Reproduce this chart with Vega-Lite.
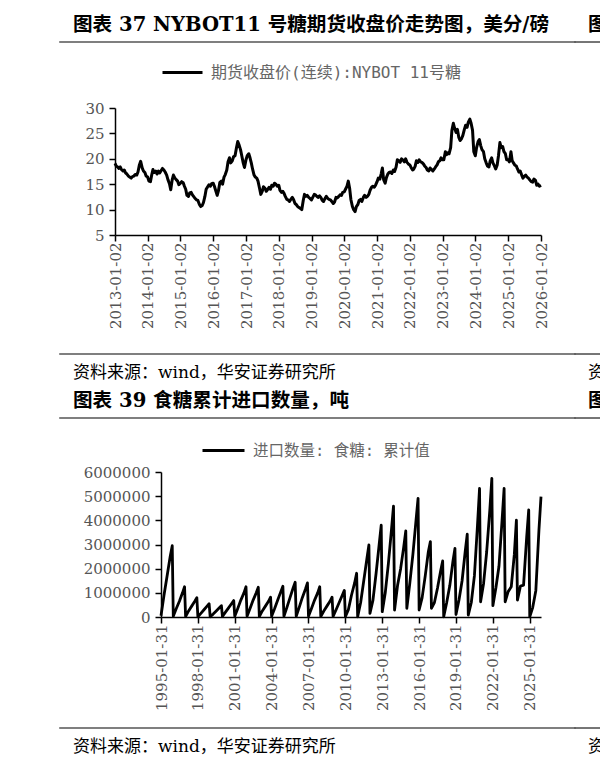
{
  "$schema": "https://vega.github.io/schema/vega-lite/v6.json",
  "padding": {"left": 59, "top": 14, "right": 0, "bottom": 5},
  "background": "white",
  "spacing": 0,
  "resolve": {"scale": {"color": "independent"}, "legend": {"color": "independent"}},
  "datasets": {
    "price": [
      {"d":"2013-01-02","p":19.1},{"d":"2013-01-15","p":18.6},{"d":"2013-02-01","p":18.4},{"d":"2013-02-15","p":18.1},{"d":"2013-03-01","p":18.4},{"d":"2013-03-15","p":17.9},{"d":"2013-04-01","p":17.6},{"d":"2013-04-15","p":17.8},{"d":"2013-05-01","p":17.2},{"d":"2013-05-15","p":17.0},{"d":"2013-06-01","p":16.6},{"d":"2013-06-15","p":16.4},{"d":"2013-07-01","p":16.2},{"d":"2013-07-15","p":16.5},{"d":"2013-08-01","p":16.6},{"d":"2013-08-15","p":16.9},{"d":"2013-09-01","p":16.8},{"d":"2013-09-15","p":17.4},{"d":"2013-10-01","p":18.8},{"d":"2013-10-15","p":19.5},{"d":"2013-11-01","p":18.2},{"d":"2013-11-15","p":17.6},{"d":"2013-12-01","p":17.3},{"d":"2013-12-15","p":16.6},
      {"d":"2014-01-01","p":16.4},{"d":"2014-01-15","p":15.6},{"d":"2014-02-01","p":15.5},{"d":"2014-02-15","p":16.8},{"d":"2014-03-01","p":17.9},{"d":"2014-03-15","p":17.3},{"d":"2014-04-01","p":17.6},{"d":"2014-04-15","p":17.0},{"d":"2014-05-01","p":17.6},{"d":"2014-05-15","p":17.2},{"d":"2014-06-01","p":17.7},{"d":"2014-06-15","p":18.1},{"d":"2014-07-01","p":17.8},{"d":"2014-07-15","p":17.4},{"d":"2014-08-01","p":16.8},{"d":"2014-08-15","p":15.9},{"d":"2014-09-01","p":15.1},{"d":"2014-09-15","p":13.9},{"d":"2014-10-01","p":15.8},{"d":"2014-10-15","p":16.8},{"d":"2014-11-01","p":16.2},{"d":"2014-11-15","p":15.9},{"d":"2014-12-01","p":15.6},{"d":"2014-12-15","p":14.9},
      {"d":"2015-01-01","p":15.2},{"d":"2015-01-15","p":15.5},{"d":"2015-02-01","p":15.3},{"d":"2015-02-15","p":14.6},{"d":"2015-03-01","p":14.0},{"d":"2015-03-15","p":12.8},{"d":"2015-04-01","p":12.6},{"d":"2015-04-15","p":13.3},{"d":"2015-05-01","p":13.4},{"d":"2015-05-15","p":12.9},{"d":"2015-06-01","p":12.5},{"d":"2015-06-15","p":12.2},{"d":"2015-07-01","p":11.9},{"d":"2015-07-15","p":11.8},{"d":"2015-08-01","p":11.0},{"d":"2015-08-15","p":10.6},{"d":"2015-09-01","p":10.8},{"d":"2015-09-15","p":11.4},{"d":"2015-10-01","p":12.6},{"d":"2015-10-15","p":14.0},{"d":"2015-11-01","p":14.5},{"d":"2015-11-15","p":14.9},{"d":"2015-12-01","p":14.6},{"d":"2015-12-15","p":15.1},
      {"d":"2016-01-01","p":15.2},{"d":"2016-01-15","p":14.6},{"d":"2016-02-01","p":13.6},{"d":"2016-02-15","p":12.8},{"d":"2016-03-01","p":13.8},{"d":"2016-03-15","p":15.3},{"d":"2016-04-01","p":15.6},{"d":"2016-04-15","p":15.0},{"d":"2016-05-01","p":16.4},{"d":"2016-05-15","p":16.9},{"d":"2016-06-01","p":17.8},{"d":"2016-06-15","p":19.4},{"d":"2016-07-01","p":20.2},{"d":"2016-07-15","p":19.2},{"d":"2016-08-01","p":19.6},{"d":"2016-08-15","p":20.4},{"d":"2016-09-01","p":20.6},{"d":"2016-09-15","p":22.0},{"d":"2016-10-01","p":23.4},{"d":"2016-10-15","p":22.8},{"d":"2016-11-01","p":21.8},{"d":"2016-11-15","p":20.6},{"d":"2016-12-01","p":19.2},{"d":"2016-12-15","p":18.3},
      {"d":"2017-01-01","p":19.8},{"d":"2017-01-15","p":20.6},{"d":"2017-02-01","p":21.0},{"d":"2017-02-15","p":20.2},{"d":"2017-03-01","p":19.2},{"d":"2017-03-15","p":18.0},{"d":"2017-04-01","p":16.8},{"d":"2017-04-15","p":16.4},{"d":"2017-05-01","p":16.2},{"d":"2017-05-15","p":15.6},{"d":"2017-06-01","p":14.2},{"d":"2017-06-15","p":13.0},{"d":"2017-07-01","p":13.6},{"d":"2017-07-15","p":14.5},{"d":"2017-08-01","p":14.2},{"d":"2017-08-15","p":13.6},{"d":"2017-09-01","p":14.0},{"d":"2017-09-15","p":14.4},{"d":"2017-10-01","p":14.0},{"d":"2017-10-15","p":14.8},{"d":"2017-11-01","p":14.6},{"d":"2017-11-15","p":15.2},{"d":"2017-12-01","p":15.0},{"d":"2017-12-15","p":14.6},
      {"d":"2018-01-01","p":14.8},{"d":"2018-01-15","p":13.8},{"d":"2018-02-01","p":13.4},{"d":"2018-02-15","p":13.6},{"d":"2018-03-01","p":13.2},{"d":"2018-03-15","p":12.6},{"d":"2018-04-01","p":12.0},{"d":"2018-04-15","p":11.9},{"d":"2018-05-01","p":11.6},{"d":"2018-05-15","p":12.0},{"d":"2018-06-01","p":12.4},{"d":"2018-06-15","p":12.0},{"d":"2018-07-01","p":11.2},{"d":"2018-07-15","p":11.0},{"d":"2018-08-01","p":10.6},{"d":"2018-08-15","p":10.4},{"d":"2018-09-01","p":10.2},{"d":"2018-09-15","p":10.0},{"d":"2018-10-01","p":11.8},{"d":"2018-10-15","p":13.0},{"d":"2018-11-01","p":12.6},{"d":"2018-11-15","p":12.8},{"d":"2018-12-01","p":12.4},{"d":"2018-12-15","p":12.2},
      {"d":"2019-01-01","p":11.9},{"d":"2019-01-15","p":12.4},{"d":"2019-02-01","p":13.0},{"d":"2019-02-15","p":12.9},{"d":"2019-03-01","p":12.6},{"d":"2019-03-15","p":12.4},{"d":"2019-04-01","p":12.7},{"d":"2019-04-15","p":12.4},{"d":"2019-05-01","p":11.8},{"d":"2019-05-15","p":11.6},{"d":"2019-06-01","p":12.2},{"d":"2019-06-15","p":12.6},{"d":"2019-07-01","p":12.2},{"d":"2019-07-15","p":12.0},{"d":"2019-08-01","p":11.9},{"d":"2019-08-15","p":11.6},{"d":"2019-09-01","p":11.2},{"d":"2019-09-15","p":11.5},{"d":"2019-10-01","p":12.4},{"d":"2019-10-15","p":12.3},{"d":"2019-11-01","p":12.6},{"d":"2019-11-15","p":12.9},{"d":"2019-12-01","p":12.8},{"d":"2019-12-15","p":13.4},
      {"d":"2020-01-01","p":13.5},{"d":"2020-01-15","p":14.0},{"d":"2020-02-01","p":14.6},{"d":"2020-02-15","p":15.6},{"d":"2020-03-01","p":14.2},{"d":"2020-03-15","p":12.0},{"d":"2020-04-01","p":10.6},{"d":"2020-04-15","p":10.0},{"d":"2020-05-01","p":9.6},{"d":"2020-05-15","p":10.6},{"d":"2020-06-01","p":11.0},{"d":"2020-06-15","p":11.8},{"d":"2020-07-01","p":12.0},{"d":"2020-07-15","p":11.6},{"d":"2020-08-01","p":12.4},{"d":"2020-08-15","p":12.8},{"d":"2020-09-01","p":12.4},{"d":"2020-09-15","p":12.6},{"d":"2020-10-01","p":13.0},{"d":"2020-10-15","p":13.8},{"d":"2020-11-01","p":14.4},{"d":"2020-11-15","p":14.6},{"d":"2020-12-01","p":14.4},{"d":"2020-12-15","p":14.8},
      {"d":"2021-01-01","p":15.5},{"d":"2021-01-15","p":16.2},{"d":"2021-02-01","p":16.0},{"d":"2021-02-15","p":17.0},{"d":"2021-03-01","p":18.2},{"d":"2021-03-15","p":15.9},{"d":"2021-04-01","p":15.2},{"d":"2021-04-15","p":16.3},{"d":"2021-05-01","p":17.0},{"d":"2021-05-15","p":17.3},{"d":"2021-06-01","p":17.4},{"d":"2021-06-15","p":17.1},{"d":"2021-07-01","p":17.8},{"d":"2021-07-15","p":17.5},{"d":"2021-08-01","p":18.4},{"d":"2021-08-15","p":19.8},{"d":"2021-09-01","p":19.6},{"d":"2021-09-15","p":19.3},{"d":"2021-10-01","p":20.0},{"d":"2021-10-15","p":19.8},{"d":"2021-11-01","p":19.4},{"d":"2021-11-15","p":20.0},{"d":"2021-12-01","p":19.3},{"d":"2021-12-15","p":19.0},
      {"d":"2022-01-01","p":18.8},{"d":"2022-01-15","p":18.3},{"d":"2022-02-01","p":17.8},{"d":"2022-02-15","p":18.0},{"d":"2022-03-01","p":18.5},{"d":"2022-03-15","p":19.6},{"d":"2022-04-01","p":19.3},{"d":"2022-04-15","p":19.8},{"d":"2022-05-01","p":19.4},{"d":"2022-05-15","p":19.3},{"d":"2022-06-01","p":19.0},{"d":"2022-06-15","p":18.6},{"d":"2022-07-01","p":18.3},{"d":"2022-07-15","p":17.8},{"d":"2022-08-01","p":17.6},{"d":"2022-08-15","p":18.2},{"d":"2022-09-01","p":17.9},{"d":"2022-09-15","p":17.6},{"d":"2022-10-01","p":18.0},{"d":"2022-10-15","p":18.4},{"d":"2022-11-01","p":18.8},{"d":"2022-11-15","p":19.4},{"d":"2022-12-01","p":19.6},{"d":"2022-12-15","p":20.2},
      {"d":"2023-01-01","p":19.8},{"d":"2023-01-15","p":19.8},{"d":"2023-02-01","p":21.4},{"d":"2023-02-15","p":20.8},{"d":"2023-03-01","p":21.2},{"d":"2023-03-15","p":21.0},{"d":"2023-04-01","p":22.2},{"d":"2023-04-15","p":25.6},{"d":"2023-05-01","p":27.0},{"d":"2023-05-15","p":26.0},{"d":"2023-06-01","p":25.2},{"d":"2023-06-15","p":25.8},{"d":"2023-07-01","p":24.2},{"d":"2023-07-15","p":23.6},{"d":"2023-08-01","p":24.0},{"d":"2023-08-15","p":24.6},{"d":"2023-09-01","p":25.8},{"d":"2023-09-15","p":26.6},{"d":"2023-10-01","p":26.2},{"d":"2023-10-15","p":27.2},{"d":"2023-11-01","p":27.8},{"d":"2023-11-15","p":27.0},{"d":"2023-12-01","p":25.6},{"d":"2023-12-15","p":21.4},
      {"d":"2024-01-01","p":20.6},{"d":"2024-01-15","p":22.2},{"d":"2024-02-01","p":23.4},{"d":"2024-02-15","p":23.8},{"d":"2024-03-01","p":22.6},{"d":"2024-03-15","p":21.8},{"d":"2024-04-01","p":21.4},{"d":"2024-04-15","p":20.0},{"d":"2024-05-01","p":19.2},{"d":"2024-05-15","p":18.6},{"d":"2024-06-01","p":18.4},{"d":"2024-06-15","p":19.6},{"d":"2024-07-01","p":20.2},{"d":"2024-07-15","p":19.2},{"d":"2024-08-01","p":18.6},{"d":"2024-08-15","p":18.0},{"d":"2024-09-01","p":18.8},{"d":"2024-09-15","p":20.6},{"d":"2024-10-01","p":23.2},{"d":"2024-10-15","p":22.2},{"d":"2024-11-01","p":22.4},{"d":"2024-11-15","p":21.4},{"d":"2024-12-01","p":21.0},{"d":"2024-12-15","p":19.8},
      {"d":"2025-01-01","p":19.8},{"d":"2025-01-15","p":19.4},{"d":"2025-02-01","p":21.4},{"d":"2025-02-15","p":19.6},{"d":"2025-03-01","p":19.2},{"d":"2025-03-15","p":18.8},{"d":"2025-04-01","p":18.6},{"d":"2025-04-15","p":18.0},{"d":"2025-05-01","p":17.4},{"d":"2025-05-15","p":17.6},{"d":"2025-06-01","p":16.8},{"d":"2025-06-15","p":16.2},{"d":"2025-07-01","p":16.6},{"d":"2025-07-15","p":16.8},{"d":"2025-08-01","p":16.4},{"d":"2025-08-15","p":16.2},{"d":"2025-09-01","p":15.8},{"d":"2025-09-15","p":15.5},{"d":"2025-10-01","p":15.4},{"d":"2025-10-15","p":16.0},{"d":"2025-11-01","p":15.8},{"d":"2025-11-15","p":14.8},{"d":"2025-12-01","p":15.0},{"d":"2025-12-15","p":14.6},
      {"d":"2026-01-02","p":14.8}
    ],
    "imports": [
      {"d":"1995-01-31","v":50000},{"d":"1995-04-30","v":900000},{"d":"1995-07-31","v":1700000},{"d":"1995-10-31","v":2500000},{"d":"1995-12-31","v":2950000},
      {"d":"1996-01-31","v":30000},{"d":"1996-04-30","v":350000},{"d":"1996-07-31","v":650000},{"d":"1996-10-31","v":1000000},{"d":"1996-12-31","v":1250000},
      {"d":"1997-01-31","v":20000},{"d":"1997-04-30","v":250000},{"d":"1997-07-31","v":450000},{"d":"1997-10-31","v":650000},{"d":"1997-12-31","v":800000},
      {"d":"1998-01-31","v":10000},{"d":"1998-04-30","v":150000},{"d":"1998-07-31","v":300000},{"d":"1998-10-31","v":450000},{"d":"1998-12-31","v":550000},
      {"d":"1999-01-31","v":10000},{"d":"1999-04-30","v":120000},{"d":"1999-07-31","v":250000},{"d":"1999-10-31","v":380000},{"d":"1999-12-31","v":470000},
      {"d":"2000-01-31","v":20000},{"d":"2000-04-30","v":200000},{"d":"2000-07-31","v":380000},{"d":"2000-10-31","v":560000},{"d":"2000-12-31","v":680000},
      {"d":"2001-01-31","v":30000},{"d":"2001-04-30","v":350000},{"d":"2001-07-31","v":700000},{"d":"2001-10-31","v":1000000},{"d":"2001-12-31","v":1250000},
      {"d":"2002-01-31","v":30000},{"d":"2002-04-30","v":350000},{"d":"2002-07-31","v":700000},{"d":"2002-10-31","v":1000000},{"d":"2002-12-31","v":1230000},
      {"d":"2003-01-31","v":20000},{"d":"2003-04-30","v":250000},{"d":"2003-07-31","v":450000},{"d":"2003-10-31","v":650000},{"d":"2003-12-31","v":820000},
      {"d":"2004-01-31","v":30000},{"d":"2004-04-30","v":350000},{"d":"2004-07-31","v":700000},{"d":"2004-10-31","v":1050000},{"d":"2004-12-31","v":1270000},
      {"d":"2005-01-31","v":30000},{"d":"2005-04-30","v":400000},{"d":"2005-07-31","v":800000},{"d":"2005-10-31","v":1200000},{"d":"2005-12-31","v":1440000},
      {"d":"2006-01-31","v":30000},{"d":"2006-04-30","v":400000},{"d":"2006-07-31","v":800000},{"d":"2006-10-31","v":1150000},{"d":"2006-12-31","v":1410000},
      {"d":"2007-01-31","v":30000},{"d":"2007-04-30","v":350000},{"d":"2007-07-31","v":700000},{"d":"2007-10-31","v":1000000},{"d":"2007-12-31","v":1250000},
      {"d":"2008-01-31","v":20000},{"d":"2008-04-30","v":250000},{"d":"2008-07-31","v":450000},{"d":"2008-10-31","v":650000},{"d":"2008-12-31","v":820000},
      {"d":"2009-01-31","v":20000},{"d":"2009-04-30","v":300000},{"d":"2009-07-31","v":600000},{"d":"2009-10-31","v":900000},{"d":"2009-12-31","v":1100000},
      {"d":"2010-01-31","v":10000},{"d":"2010-04-30","v":300000},{"d":"2010-07-31","v":900000},{"d":"2010-10-31","v":1400000},{"d":"2010-12-31","v":1810000},
      {"d":"2011-01-31","v":10000},{"d":"2011-04-30","v":600000},{"d":"2011-07-31","v":1500000},{"d":"2011-10-31","v":2400000},{"d":"2011-12-31","v":2980000},
      {"d":"2012-01-31","v":150000},{"d":"2012-04-30","v":700000},{"d":"2012-07-31","v":1800000},{"d":"2012-10-31","v":3000000},{"d":"2012-12-31","v":3800000},
      {"d":"2013-01-31","v":220000},{"d":"2013-04-30","v":1000000},{"d":"2013-07-31","v":2200000},{"d":"2013-10-31","v":3600000},{"d":"2013-12-31","v":4590000},
      {"d":"2014-01-31","v":290000},{"d":"2014-04-30","v":1300000},{"d":"2014-07-31","v":2000000},{"d":"2014-10-31","v":2900000},{"d":"2014-12-31","v":3560000},
      {"d":"2015-01-31","v":360000},{"d":"2015-04-30","v":1400000},{"d":"2015-07-31","v":2600000},{"d":"2015-10-31","v":4000000},{"d":"2015-12-31","v":4910000},
      {"d":"2016-01-31","v":290000},{"d":"2016-04-30","v":800000},{"d":"2016-07-31","v":1700000},{"d":"2016-10-31","v":2700000},{"d":"2016-12-31","v":3120000},
      {"d":"2017-01-31","v":360000},{"d":"2017-04-30","v":600000},{"d":"2017-07-31","v":1200000},{"d":"2017-10-31","v":1900000},{"d":"2017-12-31","v":2320000},
      {"d":"2018-01-31","v":10000},{"d":"2018-04-30","v":600000},{"d":"2018-07-31","v":1300000},{"d":"2018-10-31","v":2300000},{"d":"2018-12-31","v":2840000},
      {"d":"2019-01-31","v":100000},{"d":"2019-04-30","v":700000},{"d":"2019-07-31","v":1500000},{"d":"2019-10-31","v":2700000},{"d":"2019-12-31","v":3430000},
      {"d":"2020-01-31","v":80000},{"d":"2020-04-30","v":600000},{"d":"2020-07-31","v":1700000},{"d":"2020-10-31","v":3800000},{"d":"2020-12-31","v":5320000},
      {"d":"2021-01-31","v":630000},{"d":"2021-04-30","v":1390000},{"d":"2021-07-31","v":2700000},{"d":"2021-10-31","v":4400000},{"d":"2021-12-31","v":5740000},
      {"d":"2022-01-31","v":470000},{"d":"2022-04-30","v":1200000},{"d":"2022-07-31","v":2100000},{"d":"2022-10-31","v":4000000},{"d":"2022-12-31","v":5320000},
      {"d":"2023-01-31","v":630000},{"d":"2023-04-30","v":1050000},{"d":"2023-07-31","v":1250000},{"d":"2023-10-31","v":2600000},{"d":"2023-12-31","v":4010000},
      {"d":"2024-01-31","v":700000},{"d":"2024-04-30","v":1280000},{"d":"2024-07-31","v":1320000},{"d":"2024-10-31","v":3300000},{"d":"2024-12-31","v":4430000},
      {"d":"2025-01-31","v":10000},{"d":"2025-04-30","v":400000},{"d":"2025-07-31","v":1100000},{"d":"2025-10-31","v":3600000},{"d":"2025-12-31","v":4980000}
    ]
  },
  "vconcat": [
    {
      "hconcat": [
        {"width": 515, "height": 0.01, "data": {"values": []}, "mark": "text", "encoding": {}, "view": {"stroke": "#555555", "strokeWidth": 1.6},
         "title": {"text": "图表 37 NYBOT11 号糖期货收盘价走势图，美分/磅"}},
        {"width": 25, "height": 0.01, "data": {"values": []}, "mark": "text", "encoding": {}, "view": {"stroke": "#555555", "strokeWidth": 1.6},
         "title": {"text": "图"}}
      ],
      "spacing": 0, "bounds": "flush"
    },
    {
      "hconcat": [
        {"width": 55, "height": 245, "data": {"values": []}, "mark": "text", "encoding": {}},
        {
          "width": 426, "height": 127,
          "data": {"name": "price"},
          "mark": {"type": "line", "strokeWidth": 3, "strokeJoin": "round"},
          "encoding": {
            "x": {"field": "d", "type": "temporal",
                  "scale": {"type": "utc", "domain": [{"year": 2013, "month": 1, "date": 2, "utc": true}, {"year": 2026, "month": 1, "date": 2, "utc": true}]},
                  "axis": {"format": "%Y-%m-%d",
                           "values": [{"year": 2013, "month": 1, "date": 2, "utc": true},{"year": 2014, "month": 1, "date": 2, "utc": true},{"year": 2015, "month": 1, "date": 2, "utc": true},{"year": 2016, "month": 1, "date": 2, "utc": true},{"year": 2017, "month": 1, "date": 2, "utc": true},{"year": 2018, "month": 1, "date": 2, "utc": true},{"year": 2019, "month": 1, "date": 2, "utc": true},{"year": 2020, "month": 1, "date": 2, "utc": true},{"year": 2021, "month": 1, "date": 2, "utc": true},{"year": 2022, "month": 1, "date": 2, "utc": true},{"year": 2023, "month": 1, "date": 2, "utc": true},{"year": 2024, "month": 1, "date": 2, "utc": true},{"year": 2025, "month": 1, "date": 2, "utc": true},{"year": 2026, "month": 1, "date": 2, "utc": true}]}},
            "y": {"field": "p", "type": "quantitative", "scale": {"domain": [5, 30], "nice": false, "zero": false},
                  "axis": {"values": [5, 10, 15, 20, 25, 30]}},
            "color": {"datum": "期货收盘价(连续):NYBOT 11号糖", "type": "nominal", "scale": {"range": ["#000000"]},
                      "legend": {"orient": "none", "legendX": 38, "legendY": -65, "padding": 8, "symbolSize": 1600, "labelFontSize": 16}}
          }
        }
      ],
      "spacing": 0, "bounds": "flush",
      "resolve": {"scale": {"color": "independent"}, "legend": {"color": "independent"}}
    },
    {
      "hconcat": [
        {"width": 515, "height": 0.01, "data": {"values": []}, "mark": "text", "encoding": {}, "view": {"stroke": "#555555", "strokeWidth": 1.6},
         "title": {"text": "资料来源：wind，华安证券研究所", "orient": "bottom", "baseline": "top", "offset": 11, "fontSize": 17, "fontWeight": "normal"}},
        {"width": 25, "height": 0.01, "data": {"values": []}, "mark": "text", "encoding": {}, "view": {"stroke": "#555555", "strokeWidth": 1.6},
         "title": {"text": "资", "orient": "bottom", "baseline": "top", "offset": 11, "fontSize": 17, "fontWeight": "normal"}},
        {"width": 0.01, "height": 36, "data": {"values": []}, "mark": "text", "encoding": {}}
      ],
      "spacing": 0, "bounds": "flush"
    },
    {
      "hconcat": [
        {"width": 515, "height": 0.01, "data": {"values": []}, "mark": "text", "encoding": {}, "view": {"stroke": "#555555", "strokeWidth": 1.6},
         "title": {"text": "图表 39 食糖累计进口数量，吨"}},
        {"width": 25, "height": 0.01, "data": {"values": []}, "mark": "text", "encoding": {}, "view": {"stroke": "#555555", "strokeWidth": 1.6},
         "title": {"text": "图"}}
      ],
      "spacing": 0, "bounds": "flush"
    },
    {
      "hconcat": [
        {"width": 101, "height": 255, "data": {"values": []}, "mark": "text", "encoding": {}},
        {
          "width": 380, "height": 145,
          "data": {"name": "imports"},
          "mark": {"type": "line", "strokeWidth": 2.8, "strokeJoin": "round"},
          "encoding": {
            "x": {"field": "d", "type": "temporal",
                  "scale": {"type": "utc", "domain": [{"year": 1995, "month": 1, "date": 31, "utc": true}, {"year": 2025, "month": 12, "date": 31, "utc": true}]},
                  "axis": {"format": "%Y-%m-%d",
                           "values": [{"year": 1995, "month": 1, "date": 31, "utc": true},{"year": 1998, "month": 1, "date": 31, "utc": true},{"year": 2001, "month": 1, "date": 31, "utc": true},{"year": 2004, "month": 1, "date": 31, "utc": true},{"year": 2007, "month": 1, "date": 31, "utc": true},{"year": 2010, "month": 1, "date": 31, "utc": true},{"year": 2013, "month": 1, "date": 31, "utc": true},{"year": 2016, "month": 1, "date": 31, "utc": true},{"year": 2019, "month": 1, "date": 31, "utc": true},{"year": 2022, "month": 1, "date": 31, "utc": true},{"year": 2025, "month": 1, "date": 31, "utc": true}]}},
            "y": {"field": "v", "type": "quantitative", "scale": {"domain": [0, 6000000], "nice": false},
                  "axis": {"values": [0, 1000000, 2000000, 3000000, 4000000, 5000000, 6000000], "format": "d"}},
            "color": {"datum": "进口数量: 食糖: 累计值", "type": "nominal", "scale": {"range": ["#000000"]},
                      "legend": {"orient": "none", "legendX": 31, "legendY": -53, "padding": 9, "symbolSize": 1764, "labelFontSize": 15.5}}
          }
        }
      ],
      "spacing": 0, "bounds": "flush",
      "resolve": {"scale": {"color": "independent"}, "legend": {"color": "independent"}}
    },
    {
      "hconcat": [
        {"width": 515, "height": 0.01, "data": {"values": []}, "mark": "text", "encoding": {}, "view": {"stroke": "#555555", "strokeWidth": 1.6},
         "title": {"text": "资料来源：wind，华安证券研究所", "orient": "bottom", "baseline": "top", "offset": 11, "fontSize": 17, "fontWeight": "normal"}},
        {"width": 25, "height": 0.01, "data": {"values": []}, "mark": "text", "encoding": {}, "view": {"stroke": "#555555", "strokeWidth": 1.6},
         "title": {"text": "资", "orient": "bottom", "baseline": "top", "offset": 11, "fontSize": 17, "fontWeight": "normal"}}
      ],
      "spacing": 0, "bounds": "flush"
    }
  ],
  "config": {
    "view": {"stroke": null},
    "title": {"anchor": "start", "frame": "group", "dx": 13, "offset": 6, "baseline": "bottom", "font": "DejaVu Serif, Noto Sans CJK SC", "fontSize": 19.6, "fontWeight": "bold", "color": "#000000"},
    "axis": {"grid": false, "title": null, "domainColor": "#000000", "domainWidth": 1.5, "tickColor": "#000000", "tickWidth": 1.5, "tickSize": 6, "labelFont": "DejaVu Serif", "labelFontSize": 15, "labelColor": "#555555", "labelPadding": 5},
    "axisX": {"labelAngle": 270, "labelPadding": 1, "labelOverlap": false, "labelFlush": false},
    "legend": {"title": null, "symbolType": "stroke", "symbolStrokeWidth": 3, "labelColor": "#666666", "labelFont": "DejaVu Sans Mono, Noto Sans CJK SC", "labelLimit": 600, "labelOffset": 7, "direction": "horizontal"}
  }
}
